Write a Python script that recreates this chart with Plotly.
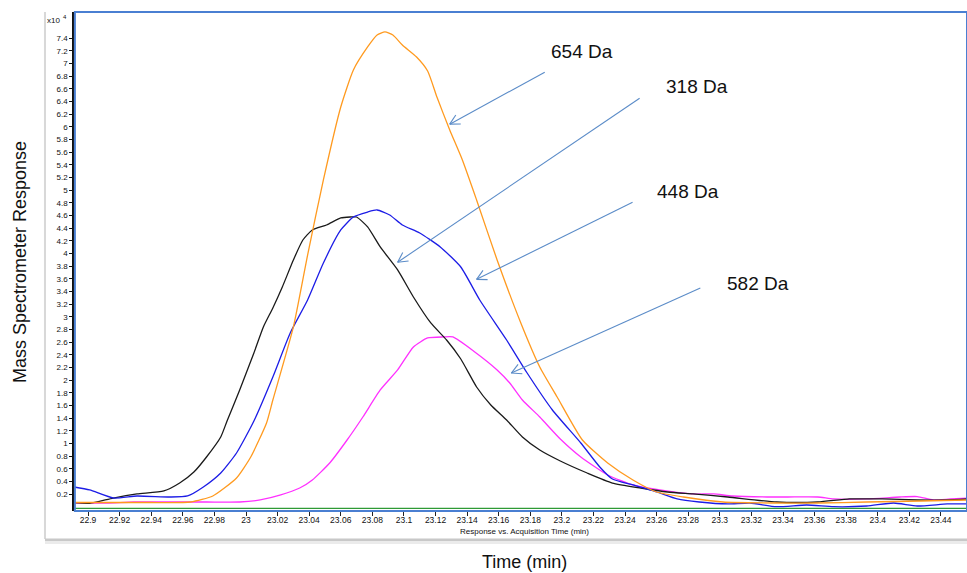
import math
import plotly.graph_objects as go

# ---- data (response in units of x10^4) ----
t_654 = [22.891, 22.939, 22.965, 22.979, 22.994, 23.003, 23.013, 23.017, 23.030, 23.039,
         23.049, 23.060, 23.068, 23.077, 23.083, 23.088, 23.093, 23.099, 23.108, 23.115,
         23.121, 23.129, 23.137, 23.146, 23.159, 23.174, 23.186, 23.197, 23.213, 23.229,
         23.245, 23.260, 23.277, 23.302, 23.334, 23.362, 23.393, 23.427, 23.457]
v_654 = [0.066, 0.066, 0.074, 0.169, 0.453, 0.785, 1.322, 1.685, 2.838, 3.974,
         5.159, 6.311, 6.896, 7.259, 7.448, 7.496, 7.448, 7.290, 7.101, 6.880,
         6.460, 5.948, 5.474, 4.843, 3.895, 2.901, 2.206, 1.732, 1.053, 0.690,
         0.422, 0.232, 0.153, 0.074, 0.058, 0.058, 0.074, 0.090, 0.106]

t_318 = [22.891, 22.901, 22.916, 22.931, 22.948, 22.958, 22.967, 22.975, 22.984, 22.988,
         22.996, 23.005, 23.011, 23.017, 23.023, 23.030, 23.036, 23.042, 23.051, 23.060,
         23.066, 23.070, 23.077, 23.085, 23.096, 23.106, 23.117, 23.127, 23.136, 23.146,
         23.155, 23.165, 23.175, 23.186, 23.199, 23.216, 23.232, 23.250, 23.267, 23.283,
         23.305, 23.336, 23.362, 23.382, 23.403, 23.425, 23.444, 23.457]
v_318 = [0.063, 0.054, 0.137, 0.201, 0.248, 0.374, 0.548, 0.785, 1.101, 1.353,
         1.843, 2.427, 2.838, 3.138, 3.469, 3.895, 4.211, 4.369, 4.448, 4.559,
         4.574, 4.574, 4.417, 4.101, 3.738, 3.311, 2.901, 2.632, 2.332, 1.890,
         1.606, 1.369, 1.101, 0.895, 0.722, 0.532, 0.374, 0.295, 0.232, 0.201,
         0.153, 0.074, 0.074, 0.122, 0.122, 0.106, 0.106, 0.122]

t_448 = [22.891, 22.901, 22.916, 22.931, 22.952, 22.963, 22.973, 22.984, 22.994, 23.005,
         23.017, 23.028, 23.039, 23.049, 23.060, 23.068, 23.077, 23.083, 23.091, 23.099,
         23.110, 23.123, 23.136, 23.148, 23.165, 23.178, 23.194, 23.212, 23.224, 23.232,
         23.245, 23.260, 23.273, 23.287, 23.305, 23.319, 23.336, 23.355, 23.372, 23.393,
         23.410, 23.425, 23.444, 23.457]
v_448 = [0.311, 0.264, 0.137, 0.169, 0.153, 0.169, 0.311, 0.532, 0.848, 1.353,
         2.048, 2.743, 3.264, 3.848, 4.369, 4.574, 4.653, 4.685, 4.606, 4.448,
         4.322, 4.101, 3.785, 3.264, 2.632, 2.111, 1.527, 1.006, 0.627, 0.437,
         0.343, 0.232, 0.122, 0.074, 0.043, 0.058, 0.000, 0.027, 0.000, 0.011,
         0.058, 0.011, 0.043, 0.043]

t_582 = [22.891, 22.912, 22.929, 22.954, 22.975, 22.996, 23.009, 23.022, 23.034, 23.042,
         23.053, 23.064, 23.074, 23.085, 23.096, 23.106, 23.115, 23.125, 23.131, 23.144,
         23.159, 23.167, 23.175, 23.186, 23.199, 23.212, 23.229, 23.245, 23.262, 23.283,
         23.296, 23.308, 23.330, 23.343, 23.362, 23.372, 23.393, 23.414, 23.425, 23.435,
         23.446, 23.457]
v_582 = [0.058, 0.058, 0.074, 0.074, 0.074, 0.074, 0.106, 0.185, 0.295, 0.422,
         0.690, 1.053, 1.416, 1.843, 2.159, 2.522, 2.664, 2.680, 2.680, 2.459,
         2.159, 1.953, 1.685, 1.416, 1.069, 0.785, 0.501, 0.343, 0.264, 0.201,
         0.201, 0.169, 0.153, 0.153, 0.153, 0.122, 0.122, 0.153, 0.160, 0.106,
         0.122, 0.137]

t_base = [22.891, 23.100, 23.300, 23.457]
v_base = [-0.025, -0.025, -0.025, -0.025]

x_ticks = [22.9, 22.92, 22.94, 22.96, 22.98, 23.0, 23.02, 23.04, 23.06, 23.08, 23.1,
           23.12, 23.14, 23.16, 23.18, 23.2, 23.22, 23.24, 23.26, 23.28, 23.3, 23.32,
           23.34, 23.36, 23.38, 23.4, 23.42, 23.44]
x_tick_text = ["22.9", "22.92", "22.94", "22.96", "22.98", "23", "23.02", "23.04", "23.06",
               "23.08", "23.1", "23.12", "23.14", "23.16", "23.18", "23.2", "23.22", "23.24",
               "23.26", "23.28", "23.3", "23.32", "23.34", "23.36", "23.38", "23.4", "23.42",
               "23.44"]
y_ticks = [0.2, 0.4, 0.6, 0.8, 1.0, 1.2, 1.4, 1.6, 1.8, 2.0, 2.2, 2.4, 2.6, 2.8, 3.0, 3.2,
           3.4, 3.6, 3.8, 4.0, 4.2, 4.4, 4.6, 4.8, 5.0, 5.2, 5.4, 5.6, 5.8, 6.0, 6.2, 6.4,
           6.6, 6.8, 7.0, 7.2, 7.4]
y_tick_text = ["0.2", "0.4", "0.6", "0.8", "1", "1.2", "1.4", "1.6", "1.8", "2", "2.2", "2.4",
               "2.6", "2.8", "3", "3.2", "3.4", "3.6", "3.8", "4", "4.2", "4.4", "4.6", "4.8",
               "5", "5.2", "5.4", "5.6", "5.8", "6", "6.2", "6.4", "6.6", "6.8", "7", "7.2",
               "7.4"]

labels = ["654 Da", "318 Da", "448 Da", "582 Da"]

FONT = "Liberation Sans, Arial, sans-serif"

fig = go.Figure()
series = [
    (t_base, v_base, "#2e9a35", "baseline"),
    (t_582, v_582, "#ff30ff", labels[3]),
    (t_318, v_318, "#1a1a1a", labels[1]),
    (t_448, v_448, "#1c1ce6", labels[2]),
    (t_654, v_654, "#ff9a1f", labels[0]),
]
for t, v, c, name in series:
    fig.add_trace(go.Scatter(x=t, y=v, mode="lines", name=name,
                             line=dict(color=c, width=1.3, shape="spline", smoothing=0.55),
                             showlegend=False, hoverinfo="x+y+name"))

arrow_col = "#5b8cc8"
# (tip x, tip y, tail dx px, tail dy px (screen, down +), label x, label y)
arrows = [
    (23.129, 6.04, 95, -52, 23.213, 7.18),
    (23.096, 3.86, 242, -164, 23.2855, 6.64),
    (23.146, 3.59, 156, -77, 23.280, 4.97),
    (23.168, 2.11, 189, -85, 23.324, 3.53),
]
annotations = []
shapes = []
HEAD_LEN = 11
HEAD_ANG = math.radians(28)
for (ax_, ay_, dx, dy, lx, ly), lab in zip(arrows, labels):
    px, py = dx, -dy
    n = math.hypot(px, py)
    ux, uy = px / n, py / n
    common = dict(xref="x", yref="y", xsizemode="pixel", ysizemode="pixel",
                  xanchor=ax_, yanchor=ay_, line=dict(color=arrow_col, width=1.1))
    shapes.append(dict(type="line", x0=0, y0=0, x1=px, y1=py, **common))
    for s in (1, -1):
        ca, sa = math.cos(s * HEAD_ANG), math.sin(s * HEAD_ANG)
        hx = (ux * ca - uy * sa) * HEAD_LEN
        hy = (ux * sa + uy * ca) * HEAD_LEN
        shapes.append(dict(type="line", x0=0, y0=0, x1=hx, y1=hy, **common))
    annotations.append(dict(x=lx, y=ly, xref="x", yref="y", text=lab, showarrow=False,
                            xanchor="center", yanchor="middle",
                            font=dict(family=FONT, size=19, color="#111")))

annotations += [
    dict(x=-0.0605, y=0.499, xref="paper", yref="paper", text="Mass Spectrometer Response",
         textangle=-90, showarrow=False, xanchor="center", yanchor="middle",
         font=dict(family=FONT, size=18, color="#111")),
    dict(x=0.505, y=-0.102, xref="paper", yref="paper", text="Time (min)",
         showarrow=False, xanchor="center", yanchor="middle",
         font=dict(family=FONT, size=18, color="#111")),
    dict(x=0.505, y=-0.042, xref="paper", yref="paper",
         text="Response vs. Acquisition Time (min)", xanchor="center", yanchor="middle",
         showarrow=False, font=dict(family=FONT, size=8, color="#111")),
    dict(x=-0.0235, y=0.982, xref="paper", yref="paper", text="x10",
         xanchor="center", yanchor="middle",
         showarrow=False, font=dict(family=FONT, size=8, color="#111")),
    dict(x=-0.0105, y=0.989, xref="paper", yref="paper", text="4",
         xanchor="center", yanchor="middle",
         showarrow=False, font=dict(family=FONT, size=6, color="#111")),
]

shapes += [
    dict(type="line", xref="paper", yref="paper", x0=-0.0325, x1=-0.0325, y0=-0.056, y1=1.0,
         line=dict(color="#d8d8d8", width=2)),
    dict(type="line", xref="paper", yref="paper", x0=-0.0325, x1=1.0, y0=-0.058, y1=-0.058,
         line=dict(color="#c8c8c8", width=3)),
    dict(type="line", xref="paper", yref="paper", x0=-0.0325, x1=1.0, y0=-0.063, y1=-0.063,
         line=dict(color="#ebebeb", width=3)),
    dict(type="rect", xref="paper", yref="paper", x0=0.001, x1=1.0, y0=0.0, y1=1.0,
         line=dict(color="#4a7fd2", width=2), layer="above"),
]

fig.update_layout(
    width=967, height=573,
    margin=dict(l=74, r=0, t=12, b=62),
    paper_bgcolor="white", plot_bgcolor="white",
    annotations=annotations, shapes=shapes,
    font=dict(family=FONT, size=8, color="#111"),
    xaxis=dict(range=[22.8911, 23.4565], tickvals=x_ticks, ticktext=x_tick_text,
               showgrid=False, zeroline=False, showline=False,
               ticks="outside", ticklen=4, tickcolor="#222", tickwidth=1,
               ticklabelstandoff=-3,
               tickfont=dict(family=FONT, size=8.5, color="#111")),
    yaxis=dict(range=[-0.068, 7.811], tickvals=y_ticks, ticktext=y_tick_text,
               showgrid=False, zeroline=False, showline=True, linecolor="#111", linewidth=1.5,
               ticks="outside", ticklen=3, tickcolor="#111", tickwidth=1,
               tickfont=dict(family=FONT, size=8, color="#111")),
)

fig.write_html(
    "out.html",
    config={"displayModeBar": False},
    post_script="document.body.style.margin='0';document.body.style.overflow='hidden';",
)
